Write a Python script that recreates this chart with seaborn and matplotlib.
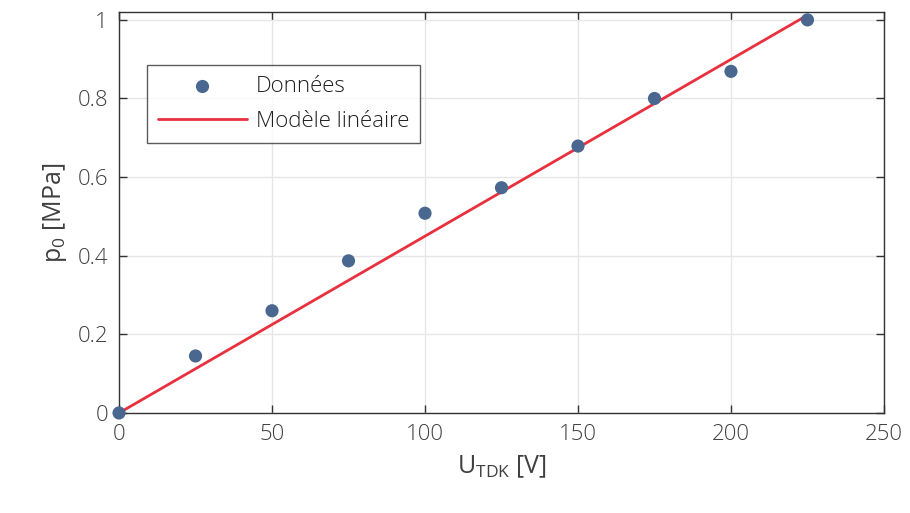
import numpy as np
import pandas as pd
import seaborn as sns
import matplotlib
import matplotlib.pyplot as plt

matplotlib.pyplot.switch_backend('Agg')

# measured points
u_tdk = [0, 25, 50, 75, 100, 125, 150, 175, 200, 225]
p0 = [0.0, 0.145, 0.26, 0.387, 0.508, 0.573, 0.679, 0.80, 0.869, 1.0]
# linear model endpoints
model_u = [0, 225]
model_p = [0.0, 1.012]

data = pd.DataFrame({'u': u_tdk, 'p': p0})
model = pd.DataFrame({'u': model_u, 'p': model_p})

sns.set_theme(style="whitegrid")
plt.rcParams['font.family'] = ['Open Sans', 'DejaVu Sans']
plt.rcParams['font.weight'] = 'light'
plt.rcParams['mathtext.default'] = 'regular'

text_col = '#404040'
fig = plt.figure(figsize=(9.1, 5.13), dpi=100)
ax = fig.add_axes([0.1308, 0.195, 0.8406, 0.7816])

sns.scatterplot(x='u', y='p', data=data, ax=ax, color='#4a6790', s=90,
                edgecolor='none', label='Données', zorder=3, clip_on=False)
sns.lineplot(x='u', y='p', data=model, ax=ax, color='#e8303e', linewidth=2,
             label='Modèle linéaire', zorder=2)

ax.set_xlim(0, 250)
ax.set_ylim(0, 1.02)
ax.set_xticks([0, 50, 100, 150, 200, 250])
ax.set_yticks([0, 0.2, 0.4, 0.6, 0.8, 1])
ax.set_yticklabels(['0', '0.2', '0.4', '0.6', '0.8', '1'])
ax.grid(True, color='#e6e6e6', linewidth=1)
for s in ax.spines.values():
    s.set_color('#333333')
    s.set_linewidth(1)
ax.tick_params(direction='in', length=6, width=1, color='#333333',
               labelsize=16, labelcolor=text_col, top=True, right=True,
               bottom=True, left=True, pad=8)
ax.set_xlabel('U$_{TDK}$ [V]', fontsize=18, color=text_col, labelpad=6)
ax.set_ylabel('p$_0$ [MPa]', fontsize=18, color=text_col, labelpad=6)

leg = ax.legend(loc='upper left', bbox_to_anchor=(0.022, 0.895), fontsize=16,
                frameon=True, fancybox=False, edgecolor='#333333',
                borderpad=0.5, handlelength=4.0, handletextpad=0.4,
                labelspacing=0.6)
leg.get_frame().set_linewidth(1)
for t in leg.get_texts():
    t.set_color('#202020')

plt.savefig('out.png', dpi=100)
plt.close()
